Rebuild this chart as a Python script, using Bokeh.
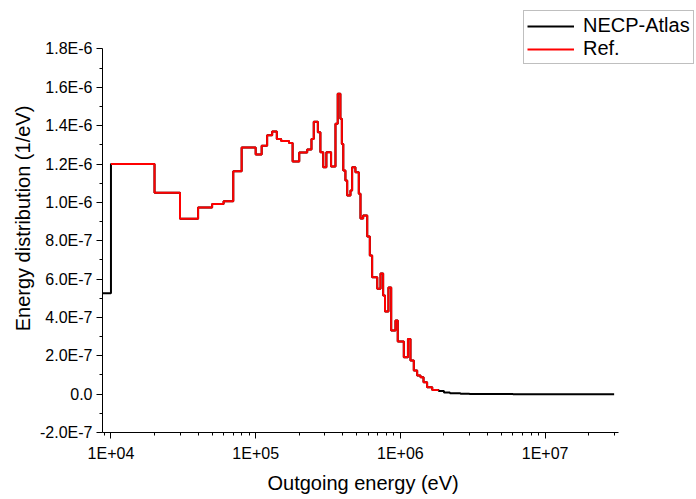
from bokeh.plotting import figure
from bokeh.models import Range1d, LogTicker, FixedTicker, Legend, LegendItem, Title
from bokeh.embed import file_html
from bokeh.resources import INLINE

# Reference spectrum: bin lower edges (eV) and energy distribution (1/eV)
ref_edges = [
    1.0e4, 2.0e4, 3.0e4, 4.0e4, 5.0e4, 6.0e4, 7.0e4, 8.0e4, 1.0e5, 1.1e5,
    1.2e5, 1.3e5, 1.4e5, 1.5e5, 1.7e5, 1.8e5, 2.0e5, 2.27e5, 2.43e5, 2.52e5,
    2.69e5, 2.8e5, 2.93e5, 3.08e5, 3.32e5, 3.56e5, 3.69e5, 3.85e5, 3.94e5, 4.03e5,
    4.17e5, 4.29e5, 4.52e5, 4.64e5, 4.89e5, 5.16e5, 5.3e5, 5.53e5, 5.9e5, 6.15e5,
    6.38e5, 6.92e5, 7.29e5, 7.6e5, 7.83e5, 8.27e5, 8.64e5, 9.25e5, 9.59e5, 1.056e6,
    1.128e6, 1.174e6, 1.238e6, 1.306e6, 1.377e6, 1.445e6, 1.53e6, 1.66e6,
]
ref_values = [
    1.20e-6, 1.05e-6, 9.15e-7, 9.73e-7, 9.92e-7, 1.006e-6, 1.162e-6, 1.286e-6, 1.25e-6, 1.296e-6,
    1.35e-6, 1.37e-6, 1.33e-6, 1.32e-6, 1.31e-6, 1.213e-6, 1.26e-6, 1.276e-6, 1.33e-6, 1.42e-6,
    1.366e-6, 1.262e-6, 1.183e-6, 1.262e-6, 1.187e-6, 1.41e-6, 1.566e-6, 1.436e-6, 1.305e-6, 1.166e-6,
    1.114e-6, 1.036e-6, 1.062e-6, 1.183e-6, 1.157e-6, 1.045e-6, 9.16e-7, 9.31e-7, 8.22e-7, 7.23e-7,
    6.1e-7, 5.49e-7, 6.29e-7, 5.14e-7, 4.31e-7, 5.56e-7, 3.32e-7, 3.84e-7, 2.74e-7, 1.92e-7,
    2.88e-7, 1.75e-7, 1.23e-7, 9.7e-8, 8.8e-8, 6.2e-8, 3.6e-8, 2.2e-8,
]
ref_end = 1.84e6

# NECP-Atlas: same group structure, plus a low-energy bin and the high-energy tail
necp_head_edges = [8.74e3]
necp_head_values = [5.26e-7]
necp_tail_edges = [1.84e6, 2.0e6, 2.2e6, 2.6e6, 3.0e6, 4.0e6, 6.0e6, 1.0e7]
necp_tail_values = [1.6e-8, 9e-9, 5e-9, 2e-9, 1e-9, 3e-10, 5e-11, 1e-12]
necp_end = 3.0e7

y_ticks = [-2e-7, 0.0, 2e-7, 4e-7, 6e-7, 8e-7, 1e-6, 1.2e-6, 1.4e-6, 1.6e-6, 1.8e-6]
y_tick_labels = ["-2.0E-7", "0.0", "2.0E-7", "4.0E-7", "6.0E-7", "8.0E-7",
                 "1.0E-6", "1.2E-6", "1.4E-6", "1.6E-6", "1.8E-6"]
x_ticks = [1e4, 1e5, 1e6, 1e7]
x_tick_labels = ["1E+04", "1E+05", "1E+06", "1E+07"]

# visible extent of the two axis lines
x_axis_span = (8.74e3, 3.215e7)
y_axis_span = (-2e-7, 1.8e-6)

FONT = "Liberation Sans"

# the frame runs to the top and right edges so the legend box is not clipped;
# the axis lines are limited to their own spans with bounds
p = figure(width=696, height=499, x_axis_type="log",
           x_range=Range1d(8.74e3, 1.1125e8), y_range=Range1d(-2e-7, 2.032e-6),
           output_backend="svg", toolbar_location=None,
           min_border_left=102, min_border_right=0,
           min_border_top=4, min_border_bottom=67)
p.outline_line_color = None
p.grid.visible = False
p.background_fill_color = "white"
p.border_fill_color = "white"


def step_xy(edges, values, end):
    return list(edges) + [end], list(values) + [values[-1]]


nx, ny = step_xy(necp_head_edges + ref_edges + necp_tail_edges,
                 necp_head_values + ref_values + necp_tail_values, necp_end)
rx, ry = step_xy(ref_edges, ref_values, ref_end)

r_necp = p.step(nx, ny, mode="after", line_color="black", line_width=2)
r_ref = p.step(rx, ry, mode="after", line_color="#ff0000", line_width=2)

# axes
xa = p.xaxis[0]
xa.ticker = LogTicker(num_minor_ticks=10, desired_num_ticks=4)
xa.major_label_overrides = {t: l for t, l in zip(x_ticks, x_tick_labels)}
xa.bounds = x_axis_span

ya = p.yaxis[0]
ya.ticker = FixedTicker(ticks=y_ticks,
                        minor_ticks=[t + 1e-7 for t in y_ticks[:-1]])
ya.major_label_overrides = {t: l for t, l in zip(y_ticks, y_tick_labels)}
ya.axis_label = "Energy distribution (1/eV)"
ya.bounds = y_axis_span

for ax in (xa, ya):
    ax.axis_line_color = "black"
    ax.axis_line_width = 1
    ax.major_tick_line_color = "black"
    ax.minor_tick_line_color = "black"
    ax.major_tick_out = 6
    ax.major_tick_in = 0
    ax.minor_tick_out = 3
    ax.minor_tick_in = 0
    ax.major_label_text_font = FONT
    ax.major_label_text_font_size = "16px"
    ax.major_label_text_color = "black"
    ax.axis_label_text_font = FONT
    ax.axis_label_text_font_size = "20px"
    ax.axis_label_text_font_style = "normal"
    ax.axis_label_text_color = "black"

xa.major_label_standoff = 6
ya.major_label_standoff = 4
ya.axis_label_standoff = 3

# x-axis title, centred under the drawn part of the axis
x_title = Title(text="Outgoing energy (eV)", align="left", offset=165,
                text_font=FONT, text_font_size="20px", text_font_style="normal",
                text_color="black", standoff=11)
p.add_layout(x_title, "below")

legend = Legend(items=[LegendItem(label="NECP-Atlas", renderers=[r_necp]),
                       LegendItem(label="Ref.", renderers=[r_ref])],
                location=(421, 368))
legend.label_text_font = FONT
legend.label_text_font_size = "20px"
legend.label_text_color = "black"
legend.glyph_width = 47
legend.glyph_height = 20
legend.label_height = 20
legend.label_standoff = 9
legend.spacing = 0
legend.padding = 3
legend.margin = 0
legend.border_line_color = "#808080"
legend.border_line_width = 1
legend.background_fill_color = "white"
legend.background_fill_alpha = 1.0
p.add_layout(legend, "center")

open("out.html", "w").write(file_html(p, INLINE))
